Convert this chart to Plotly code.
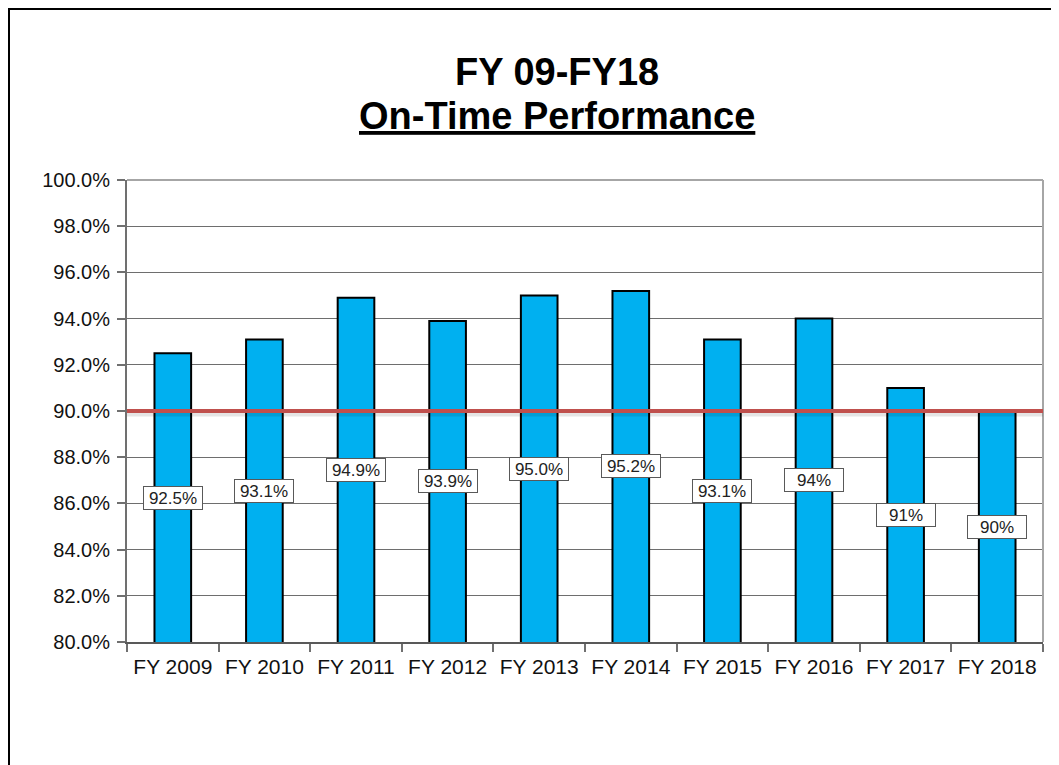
import plotly.graph_objects as go

categories = ["FY 2009", "FY 2010", "FY 2011", "FY 2012", "FY 2013",
              "FY 2014", "FY 2015", "FY 2016", "FY 2017", "FY 2018"]
values = [92.5, 93.1, 94.9, 93.9, 95.0, 95.2, 93.1, 94.0, 91.0, 90.0]
labels = ["92.5%", "93.1%", "94.9%", "93.9%", "95.0%",
          "95.2%", "93.1%", "94%", "91%", "90%"]
target = 90.0
y_min, y_max = 80.0, 100.0
y_ticks = [80, 82, 84, 86, 88, 90, 92, 94, 96, 98, 100]
y_tick_text = [f"{t:.1f}%" for t in y_ticks]

FONT = "Arial, 'Liberation Sans', sans-serif"

W, H = 1059, 765
OFF = 8  # page body margin
# desired plot area in screen pixels
PX0, PX1, PY0, PY1 = 127, 1043, 180, 642
ML = PX0 - OFF
MT = PY0 - OFF
MR = W + OFF - PX1
MB = H + OFF - PY1
pw = PX1 - PX0
ph = PY1 - PY0


def px_to_paper_x(px):
    return (px - PX0) / pw


def px_to_paper_y(py):
    return (PY1 - py) / ph


fig = go.Figure()
fig.add_trace(go.Bar(
    x=categories, y=values,
    marker=dict(color="#00B0F0", line=dict(color="black", width=2)),
    width=0.4, hoverinfo="skip",
))

annotations = []
for c, v, t in zip(categories, values, labels):
    annotations.append(dict(
        x=c, y=(y_min + v) / 2, xref="x", yref="y", text=t, showarrow=False,
        font=dict(family=FONT, size=17, color="#222"),
        bgcolor="white", bordercolor="#595959", borderwidth=1, borderpad=2,
        width=54, height=18,
    ))

title_x = px_to_paper_x(557)
annotations.append(dict(
    x=title_x, y=px_to_paper_y(72), xref="paper", yref="paper",
    text="<b>FY 09-FY18</b>", showarrow=False, xanchor="center", yanchor="middle",
    font=dict(family=FONT, size=38, color="black"),
))
annotations.append(dict(
    x=title_x, y=px_to_paper_y(116), xref="paper", yref="paper",
    text="<b><u>On-Time Performance</u></b>", showarrow=False, xanchor="center", yanchor="middle",
    font=dict(family=FONT, size=38, color="black"),
))

px_per_unit = ph / (y_max - y_min)
shapes = [
    # top and right plot border (light gray)
    dict(type="line", xref="paper", yref="paper", x0=0, x1=1, y0=1, y1=1,
         line=dict(color="#a6a6a6", width=2), layer="above"),
    dict(type="line", xref="paper", yref="paper", x0=1, x1=1, y0=0, y1=1,
         line=dict(color="#a6a6a6", width=2), layer="above"),
    # soft shadow of the target line
    dict(type="line", xref="paper", yref="y", x0=0, x1=1,
         y0=target - 3 / px_per_unit, y1=target - 3 / px_per_unit,
         line=dict(color="rgba(0,0,0,0.10)", width=5), layer="above"),
    # target line
    dict(type="line", xref="paper", yref="y", x0=0, x1=1, y0=target, y1=target,
         line=dict(color="#C0504D", width=4), layer="above"),
    # outer frame (kept just inside the drawing surface)
    dict(type="rect", xref="paper", yref="paper",
         x0=px_to_paper_x(OFF + 1), x1=px_to_paper_x(1200),
         y0=px_to_paper_y(900), y1=px_to_paper_y(OFF + 1),
         line=dict(color="black", width=2), fillcolor="rgba(0,0,0,0)", layer="below"),
]

fig.update_layout(
    width=W, height=H,
    margin=dict(l=ML, r=MR, t=MT, b=MB, autoexpand=False),
    paper_bgcolor="white", plot_bgcolor="white",
    showlegend=False,
    font=dict(family=FONT, size=20, color="#111"),
    annotations=annotations, shapes=shapes,
)
fig.update_xaxes(
    type="category", tickson="boundaries", ticks="outside", ticklen=8,
    tickcolor="#707070", tickwidth=2, ticklabelstandoff=5,
    showline=True, linecolor="#595959", linewidth=2, mirror=False,
    showgrid=False, tickfont=dict(family=FONT, size=21, color="#111"),
)
fig.update_yaxes(
    range=[y_min, y_max], tickvals=y_ticks, ticktext=y_tick_text,
    ticks="outside", ticklen=8, tickcolor="#707070", tickwidth=2, ticklabelstandoff=3,
    showline=True, linecolor="#707070", linewidth=2, mirror=False,
    showgrid=True, gridcolor="#6e6e6e", gridwidth=1.2,
    tickfont=dict(family=FONT, size=20, color="#111"),
    zeroline=False,
)

fig.write_html("out.html")
